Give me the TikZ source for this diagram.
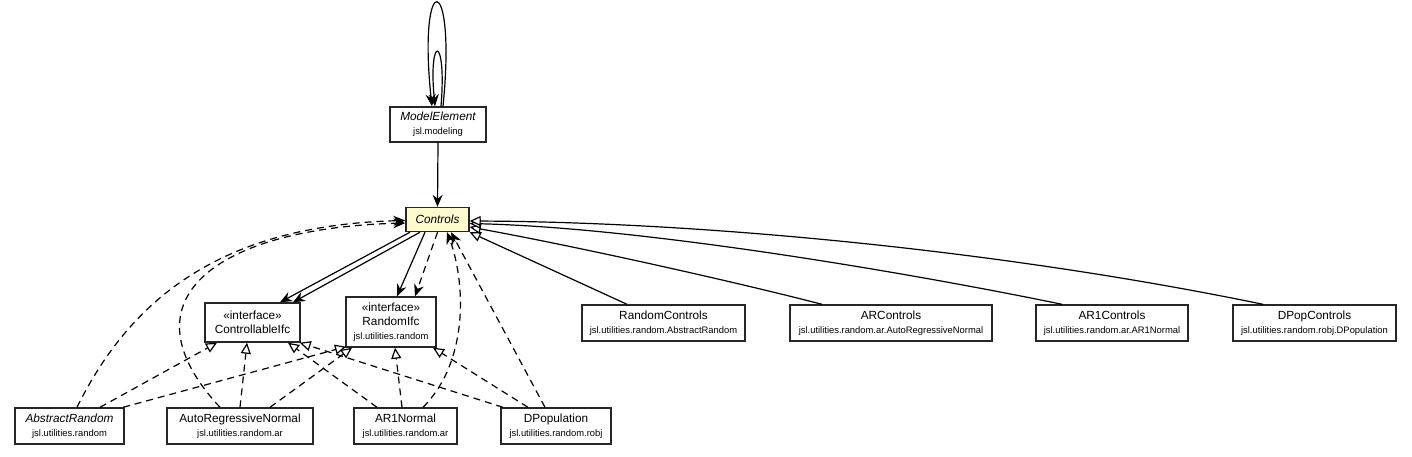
\documentclass[tikz,border=0pt]{standalone}
\usepackage{fontspec}
\setmainfont{Liberation Sans}
\usepackage{tikz}
\usetikzlibrary{calc}
\usetikzlibrary{arrows.meta}
\definecolor{ctxfill}{RGB}{255,250,205}
\newcommand{\cname}[1]{{\fontsize{11.8}{14}\selectfont #1}}
\newcommand{\cpkg}[1]{{\fontsize{9.4}{14}\selectfont #1}}
\tikzset{
	umlbox/.style={draw=black!85, line width=1.4pt, fill=white, inner sep=1pt,
		align=center, font=\fontsize{11.8}{14}\selectfont},
	ctxbox/.style={umlbox, fill=ctxfill},
	assoc/.style={line width=1.2pt, -{Stealth[length=12pt,width=10pt,inset=4pt]}},
	depend/.style={assoc, dash pattern=on 7pt off 5pt},
	realize/.style={line width=1.2pt, dash pattern=on 7pt off 5pt,
		-{Triangle[length=11pt,width=10pt,fill=white]}},
	extend/.style={line width=1.2pt, -{Triangle[length=11pt,width=10pt,fill=white]}},
}

\begin{document}
\begin{tikzpicture}[x=1pt,y=-1pt]
		\useasboundingbox (0,0) rectangle (1412,456);
%		top classes
		\node[umlbox, minimum width=96pt, minimum height=35pt] (modelel) at (438,124.5)
		{\cname{\itshape ModelElement}\\\cpkg{jsl.modeling}};
		\node[ctxbox, minimum width=63pt, minimum height=24pt] (ctrl) at (437.5,219.5)
		{\cname{\itshape Controls}};
%		interfaces
		\node[umlbox, minimum width=95pt, minimum height=39pt] (ctlifc) at (252.5,322.5)
		{\cname{«interface»}\\\cname{ControllableIfc}};
		\node[umlbox, minimum width=90pt, minimum height=50pt] (rndifc) at (391,322)
		{\cname{«interface»}\\\cname{RandomIfc}\\\cpkg{jsl.utilities.random}};
%		inner control classes
		\node[umlbox, minimum width=163pt, minimum height=36pt] (rndctl) at (663.5,323)
		{\cname{RandomControls}\\\cpkg{jsl.utilities.random.AbstractRandom}};
		\node[umlbox, minimum width=202pt, minimum height=36pt] (arctl) at (891,323)
		{\cname{ARControls}\\\cpkg{jsl.utilities.random.ar.AutoRegressiveNormal}};
		\node[umlbox, minimum width=152pt, minimum height=36pt] (arictl) at (1112,323)
		{\cname{AR1Controls}\\\cpkg{jsl.utilities.random.ar.AR1Normal}};
		\node[umlbox, minimum width=163pt, minimum height=36pt] (dpopctl) at (1314.5,323)
		{\cname{DPopControls}\\\cpkg{jsl.utilities.random.robj.DPopulation}};
%		bottom row
		\node[umlbox, minimum width=109pt, minimum height=36pt] (absrnd) at (69.5,426)
		{\cname{\itshape AbstractRandom}\\\cpkg{jsl.utilities.random}};
		\node[umlbox, minimum width=146pt, minimum height=36pt] (arnorm) at (240,426)
		{\cname{AutoRegressiveNormal}\\\cpkg{jsl.utilities.random.ar}};
		\node[umlbox, minimum width=103pt, minimum height=36pt] (arinorm) at (405.5,426)
		{\cname{AR1Normal}\\\cpkg{jsl.utilities.random.ar}};
		\node[umlbox, minimum width=110pt, minimum height=36pt] (dpop) at (556,426)
		{\cname{DPopulation}\\\cpkg{jsl.utilities.random.robj}};

%		self loops on ModelElement
		\draw[assoc] ([xshift=5pt]modelel.north)
		.. controls (457,-32) and (417,-32) .. ([xshift=-6pt]modelel.north);
		\draw[assoc] ([xshift=3pt]modelel.north)
		.. controls (447,34) and (428,34) .. ([xshift=-3pt]modelel.north);
%		associations
		\draw[assoc] (modelel.south) -- (ctrl.north);
		\draw[assoc] ([xshift=-27.5pt]ctrl.south) -- ([xshift=27.5pt]ctlifc.north);
		\draw[assoc] ([xshift=-17.5pt]ctrl.south) -- ([xshift=40.5pt]ctlifc.north);
		\draw[assoc] ([xshift=-12.5pt]ctrl.south) -- ([xshift=6pt]rndifc.north);
		\draw[depend] (ctrl.south) -- ([xshift=24pt]rndifc.north);
%		dependencies on Controls
		\draw[depend] ([xshift=7.5pt]absrnd.north)
		.. controls (130,300) and (220,225) .. ([yshift=-1pt]ctrl.west);
		\draw[depend] ([xshift=-20pt]arnorm.north)
		.. controls (120,300) and (215,228) .. ([yshift=-3.5pt]ctrl.west);
		\draw[depend] ([xshift=17.5pt]arinorm.north)
		.. controls (470,360) and (465,280) .. ([xshift=9.5pt]ctrl.south);
		\draw[depend] ([xshift=-11pt]dpop.north) -- ([xshift=13.5pt]ctrl.south);
%		realizations
		\draw[realize] ([xshift=30.5pt]absrnd.north) -- ([xshift=-35.5pt]ctlifc.south);
		\draw[realize] ([xshift=53.5pt]absrnd.north) -- ([xshift=-45pt,yshift=1pt]rndifc.south);
		\draw[realize] (arnorm.north) -- ([xshift=-5.5pt]ctlifc.south);
		\draw[realize] ([xshift=30pt]arnorm.north) -- ([xshift=-39pt]rndifc.south);
		\draw[realize] ([xshift=-28.5pt]arinorm.north) -- ([xshift=35.5pt]ctlifc.south);
		\draw[realize] ([xshift=-3.5pt]arinorm.north) -- ([xshift=4pt]rndifc.south);
		\draw[realize] ([xshift=-53pt]dpop.north) -- ([xshift=-1pt]ctlifc.south east);
		\draw[realize] ([xshift=-28pt]dpop.north) -- ([xshift=42pt]rndifc.south);
%		inner classes extend Controls
		\draw[extend] ([xshift=-36.5pt]rndctl.north) -- (ctrl.south east);
		\draw[extend] ([xshift=-69pt]arctl.north)
		.. controls (740,283) and (580,247) .. ([yshift=-7.5pt]ctrl.east);
		\draw[extend] ([xshift=-50pt]arictl.north)
		.. controls (920,275) and (650,228) .. ([yshift=-4pt]ctrl.east);
		\draw[extend] ([xshift=-51.5pt]dpopctl.north)
		.. controls (1000,250) and (700,222) .. ([yshift=-1.5pt]ctrl.east);
	\end{tikzpicture}
\end{document}
